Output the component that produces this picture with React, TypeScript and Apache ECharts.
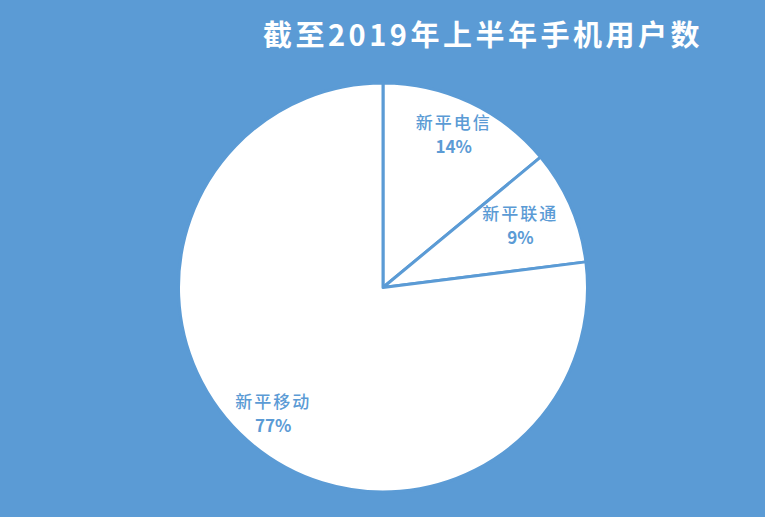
import React, { useEffect, useRef } from "react";
import * as echarts from "echarts";

const titleText = "截至2019年上半年手机用户数";
const categories = ["新平电信", "新平联通", "新平移动"];
const shares = [14, 9, 77];
// per-label nudges (padding) to match reference label placement
const labelPads = [
  [0, 0, 7, 0],
  [6, 30, 0, 0],
  [0, 0, 0, 0],
];

const BLUE = "#5B9BD5";

export default function App() {
  const ref = useRef<HTMLDivElement>(null);
  useEffect(() => {
    if (!ref.current) return;
    const chart = echarts.init(ref.current, null, { renderer: "svg" });
    const cx = 383;
    const cy = 287.5;
    chart.setOption({
      animation: false,
      backgroundColor: BLUE,
      title: {
        text: titleText,
        left: 258,
        top: 13,
        textStyle: {
          color: "#ffffff",
          fontSize: 29,
          fontWeight: "bold",
          fontFamily: "Noto Sans CJK SC",
        },
      },
      series: [
        {
          type: "pie",
          center: [cx, cy],
          radius: [0, 204.5],
          startAngle: 90,
          clockwise: true,
          silent: true,
          label: { show: false },
          labelLine: { show: false },
          itemStyle: { color: "#ffffff", borderColor: BLUE, borderWidth: 3 },
          data: categories.map((c, i) => ({ name: c, value: shares[i] })),
        },
        {
          type: "pie",
          center: [cx, cy],
          radius: [0, 326],
          startAngle: 90,
          clockwise: true,
          silent: true,
          itemStyle: { color: "transparent", borderWidth: 0 },
          labelLine: { show: false },
          label: {
            show: true,
            position: "inside",
            formatter: "{n|{b}}\n{p|{d}%}",
            rich: {
              n: {
                fontSize: 17,
                fontWeight: 500,
                color: BLUE,
                fontFamily: "Noto Sans CJK SC",
                lineHeight: 24,
              },
              p: {
                fontSize: 17,
                fontWeight: "bold",
                color: BLUE,
                fontFamily: "Noto Sans CJK SC",
                lineHeight: 24,
              },
            },
          },
          data: categories.map((c, i) => ({
            name: c,
            value: shares[i],
            label: { padding: labelPads[i] },
          })),
        },
      ],
    });
    // letter spacing on the title and label names, as in the reference
    const texts = ref.current.querySelectorAll("text");
    texts.forEach((t) => {
      const s = t.textContent || "";
      if (s.indexOf("截至") === 0) {
        (t as SVGTextElement).style.letterSpacing = "3.5px";
      } else if (categories.indexOf(s) >= 0) {
        (t as SVGTextElement).style.letterSpacing = "2px";
      }
    });
    return () => chart.dispose();
  }, []);
  return (
    <div
      ref={ref}
      style={{ position: "fixed", left: 0, top: 0, width: 765, height: 517 }}
    />
  );
}
